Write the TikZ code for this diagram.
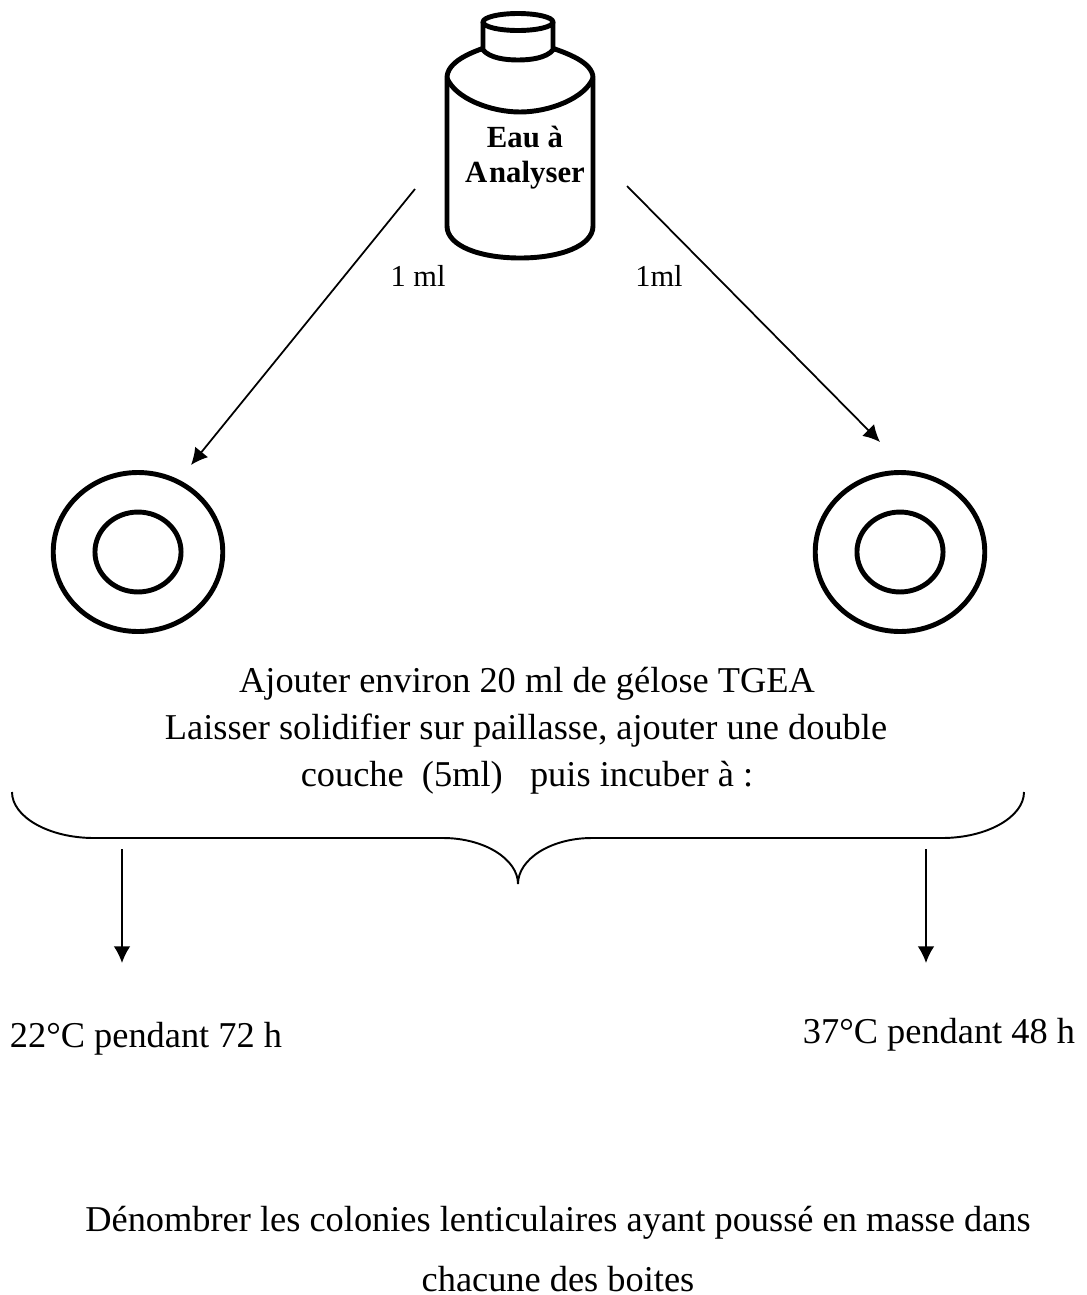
\documentclass[tikz,border=0pt]{standalone}
\usepackage{xcolor}
\usepackage{fontspec}
\setmainfont{Liberation Serif}
\usetikzlibrary{arrows.meta, calc, shapes.geometric}
\tikzset{
  bottleline/.style={line width=2.8pt, line join=round},
  plateline/.style={draw, ellipse, line width=2.8pt, inner sep=0pt},
  flowarrow/.style={line width=1pt, -{Latex[length=9.5pt,width=9.5pt]}},
  bigtext/.style={anchor=base, inner sep=0pt, font=\fontsize{20.7}{24}\selectfont},
  smalltext/.style={anchor=base, inner sep=0pt, font=\fontsize{17.3}{20}\selectfont},
  bottletext/.style={anchor=base, inner sep=0pt, font=\fontsize{17.5}{20}\selectfont\bfseries}
}
\begin{document}
\begin{tikzpicture}[x=0.02cm, y=-0.02cm]
\useasboundingbox (0,0) rectangle (1086,1295);
% bottle
\draw[bottleline, fill=white] (447,78) .. controls (447,62) and (470,53) .. (484,48)
  -- (552,48) .. controls (566,53) and (593,62) .. (593,78)
  -- (593,226) .. controls (593,246) and (560,258) .. (520,258)
  .. controls (480,258) and (447,246) .. (447,226) -- cycle;
\draw[bottleline] (447,78) .. controls (455,98) and (490,112) .. (520,112)
  .. controls (550,112) and (585,98) .. (593,78);
\draw[bottleline, fill=white] (483,22) -- (483,50) .. controls (490,58) and (505,60) .. (518,60)
  .. controls (531,60) and (546,58) .. (553,50) -- (553,22);
\draw[bottleline, fill=white] (518,22) ellipse (35 and 8.5);
\node[bottletext] (eau) at (525,147) {Eau à};
\node[bottletext] (analyser) at (525,182) {A\kern1pt nalyser};
% plates
\node[plateline, minimum width=96.5pt, minimum height=90.5pt] (plateleft) at (138,552) {};
\node[plateline, minimum width=49pt, minimum height=45.5pt] (innerleft) at (138,552) {};
\node[plateline, minimum width=96.5pt, minimum height=90.5pt] (plateright) at (900,552) {};
\node[plateline, minimum width=49pt, minimum height=45.5pt] (innerright) at (900,552) {};
% arrows
\coordinate (startleft) at (415,189);
\coordinate (endleft) at (191,465);
\coordinate (startright) at (627,186);
\coordinate (endright) at (880,442);
\draw[flowarrow] (startleft) -- (endleft);
\draw[flowarrow] (startright) -- (endright);
\node[smalltext] (mlleft) at (418,286) {1 ml};
\node[smalltext] (mlright) at (659,286) {1ml};
% text under plates
\node[bigtext] (ajouter) at (527,692) {Ajouter environ 20 ml de gélose TGEA};
\node[bigtext] (laisser) at (526,739) {Laisser solidifier sur paillasse, ajouter une double};
\node[bigtext] (couche) at (527,786) {couche\ \ (5ml)\ \ \ puis incuber à :};
% brace
\draw[line width=1.1pt] (12,792) .. controls (12,817) and (49,838) .. (94,838) -- (443,838)
  .. controls (484,838) and (518,859) .. (518,884) .. controls (518,859) and (551,838) .. (592,838)
  -- (942,838) .. controls (987,838) and (1024,817) .. (1024,792);
% temperatures
\coordinate (startcold) at (122,849);
\coordinate (endcold) at (122,963);
\coordinate (starthot) at (926,849);
\coordinate (endhot) at (926,963);
\draw[flowarrow] (startcold) -- (endcold);
\draw[flowarrow] (starthot) -- (endhot);
\node[bigtext] (cold) at (146,1047) {22°C pendant 72 h};
\node[bigtext] (hot) at (939,1043) {37°C pendant 48 h};
% last step
\node[bigtext] (denombrer) at (558,1231) {Dénombrer les colonies lenticulaires ayant poussé en masse dans};
\node[bigtext] (chacune) at (558,1291) {chacune des boites};
\end{tikzpicture}
\end{document}
